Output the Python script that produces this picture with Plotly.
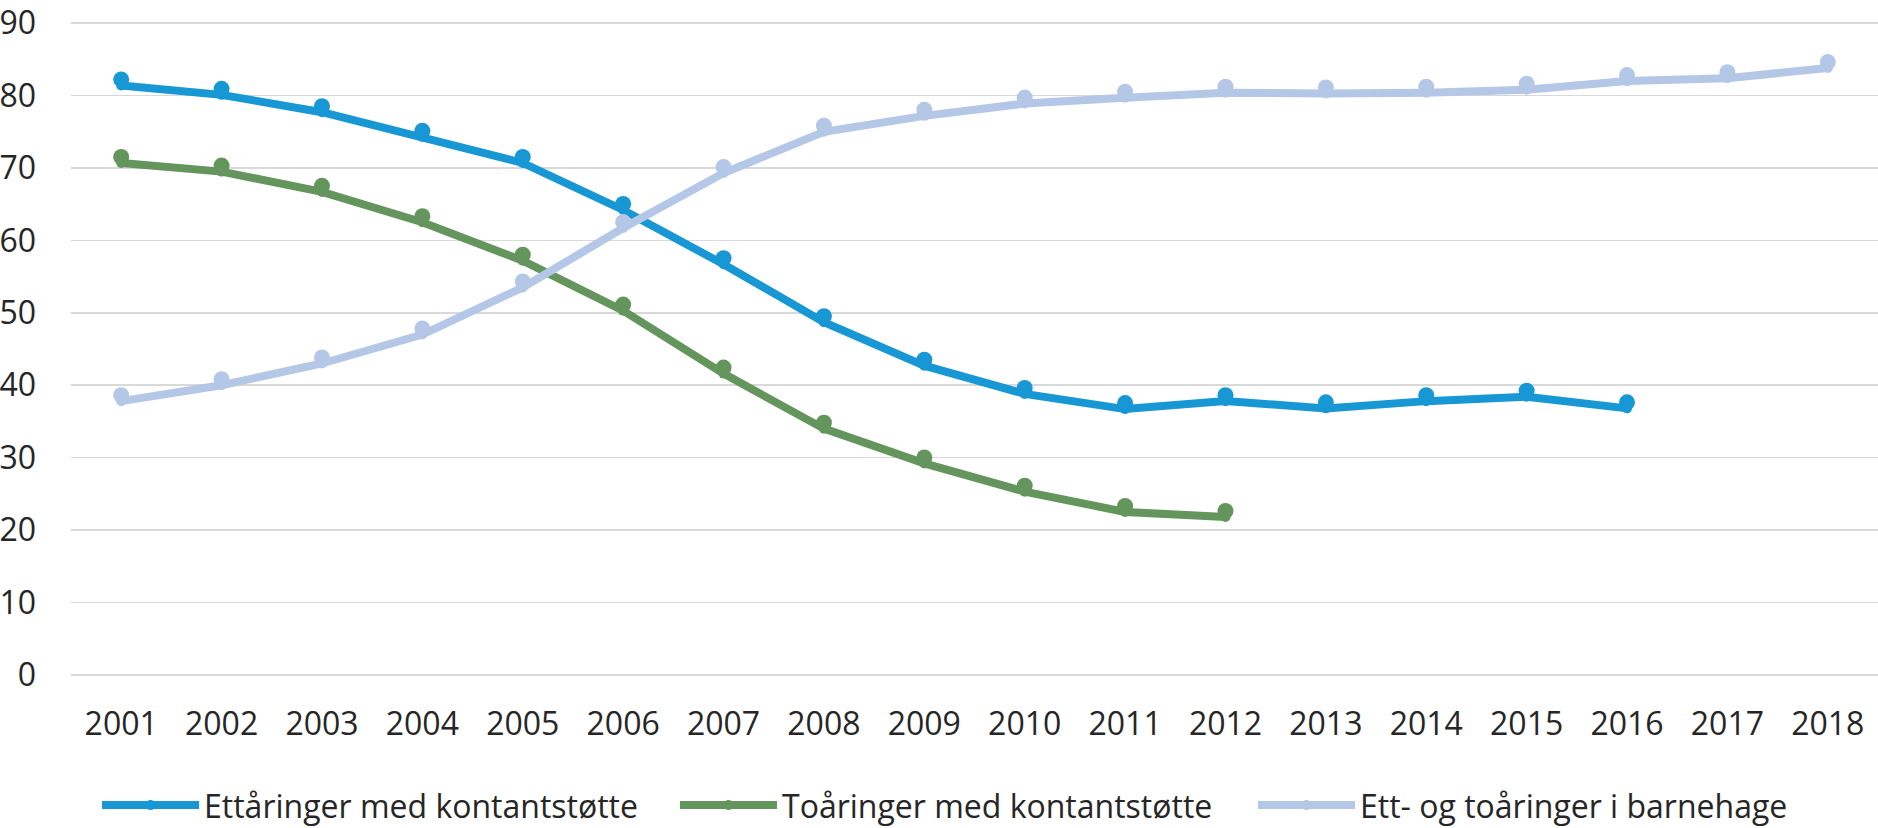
import plotly.graph_objects as go

years = [str(y) for y in range(2001, 2019)]

names = ["Ettåringer med kontantstøtte",
         "Toåringer med kontantstøtte",
         "Ett- og toåringer i barnehage"]

ettaringer = [81.4, 80.1, 77.7, 74.3, 70.7, 64.2, 56.7, 48.7, 42.7, 38.8,
              36.7, 37.8, 36.8, 37.8, 38.4, 36.8]
toaringer = [70.7, 69.5, 66.7, 62.5, 57.2, 50.3, 41.6, 34.0, 29.2, 25.3,
             22.5, 21.8]
barnehage = [37.8, 40.0, 43.0, 47.0, 53.5, 61.7, 69.3, 75.0, 77.2, 78.9,
             79.7, 80.4, 80.3, 80.4, 80.8, 82.0, 82.4, 83.8]

y_ticks = [0, 10, 20, 30, 40, 50, 60, 70, 80, 90]

colors = ["#1897d5", "#64955d", "#b4c7e7"]
series = [ettaringer, toaringer, barnehage]

W, H = 1878, 828
m_l, m_r = 71, 0
y_lo, y_hi = -0.3, 90.3
m_t, m_b = 21.3, 151.4
plot_h = H - m_t - m_b
px_per_unit = plot_h / (y_hi - y_lo)
mk_shift = 6.0 / px_per_unit      # markers sit a little above the line vertices

fig = go.Figure()
for name, vals, col in zip(names, series, colors):
    fig.add_trace(go.Scatter(
        x=years[:len(vals)], y=vals, name=name,
        mode="lines+markers",
        line=dict(color=col, width=8),
        marker=dict(color=col, size=10),
        xaxis="x", yaxis="y",
    ))
for name, vals, col in zip(names, series, colors):
    fig.add_trace(go.Scatter(
        x=years[:len(vals)], y=vals, name=name,
        mode="markers", showlegend=False,
        marker=dict(color=col, size=16),
        xaxis="x2", yaxis="y2", hoverinfo="skip",
    ))

font_col = "#262626"
fs = 32
fig.update_layout(
    template="none",
    width=W, height=H,
    margin=dict(l=m_l, r=m_r, t=m_t, b=m_b, pad=0, autoexpand=False),
    paper_bgcolor="white", plot_bgcolor="rgba(0,0,0,0)",
    font=dict(family="Open Sans", size=fs, color=font_col),
    xaxis=dict(type="category", categoryorder="array", categoryarray=years,
               range=[-0.5, 17.5], domain=[0, 1], showgrid=False,
               showline=False, zeroline=False, ticks="", automargin=False,
               ticklabelstandoff=25,
               tickfont=dict(family="Open Sans", size=fs, color=font_col)),
    yaxis=dict(range=[y_lo, y_hi], domain=[0, 1], tickvals=y_ticks,
               showgrid=True, gridcolor="#d9d9d9", gridwidth=1.5,
               zeroline=False, showline=False, ticks="", automargin=False,
               ticklabelstandoff=34, ticklabeloverflow="allow",
               tickfont=dict(family="Open Sans", size=fs, color=font_col)),
    xaxis2=dict(type="category", categoryorder="array", categoryarray=years,
                range=[-0.5, 17.5], domain=[0, 1], visible=False,
                anchor="y2", overlaying="x"),
    yaxis2=dict(range=[y_lo - mk_shift, y_hi - mk_shift], domain=[0, 1],
                visible=False, anchor="x2", overlaying="y"),
    legend=dict(orientation="h", x=0.0144, xanchor="left",
                y=-0.1956, yanchor="middle", itemwidth=97,
                entrywidth=466, entrywidthmode="pixels",
                font=dict(family="Open Sans", size=fs, color=font_col),
                bgcolor="rgba(0,0,0,0)", tracegroupgap=0),
    showlegend=True,
    hovermode=False,
)

# remove the default 8px page margin so the figure fills the window exactly
fig.write_html(
    "out.html",
    config={"displayModeBar": False, "staticPlot": True},
    post_script="document.body.style.margin='0px';"
                "document.body.style.overflow='hidden';",
)
